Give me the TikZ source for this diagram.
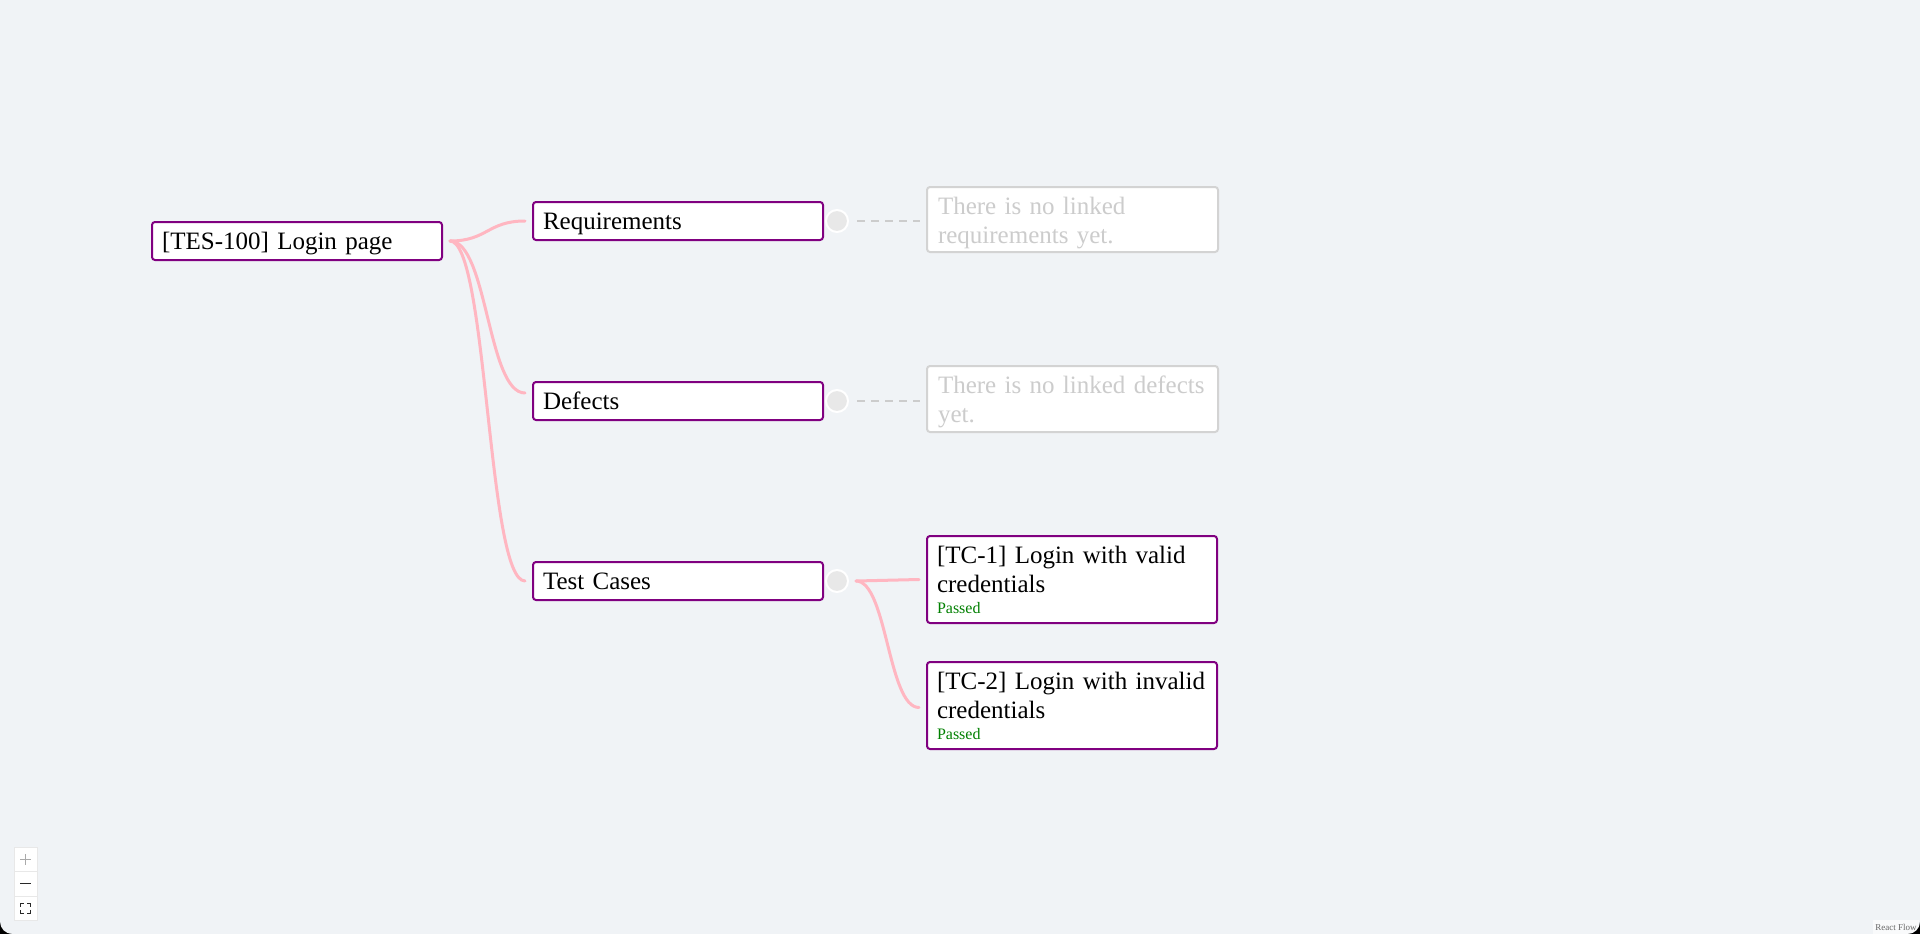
\documentclass[tikz,border=0pt]{standalone}
\usepackage{fontspec}
\setmainfont{Liberation Serif}
\definecolor{bg}{RGB}{240,243,246}
\definecolor{nodeborder}{RGB}{128,0,128}
\definecolor{edgepink}{RGB}{255,182,193}
\definecolor{phtext}{RGB}{204,204,204}
\definecolor{phborder}{RGB}{211,211,211}
\definecolor{handlefill}{RGB}{232,232,232}
\definecolor{passgreen}{RGB}{0,128,0}
\definecolor{ctrlborder}{RGB}{232,232,232}
\definecolor{ctrlplus}{RGB}{170,170,170}
\definecolor{ctrldark}{RGB}{40,40,40}
\begin{document}
\begin{tikzpicture}[x=1pt,y=-1pt,
  every node/.style={inner sep=0pt, outer sep=0pt},
  itembox/.style={draw=nodeborder, line width=2pt, fill=white, rounded corners=3pt,
    anchor=north west, minimum width=290pt, text width=270pt, align=left,
    inner xsep=10pt, font=\fontsize{25}{29}\selectfont},
  single/.style={itembox, minimum height=38pt, text height=18pt, text depth=2pt},
  tcbox/.style={itembox, minimum height=87pt},
  phbox/.style={draw=phborder, line width=2pt, fill=white, rounded corners=3pt,
    anchor=north west, minimum width=291pt, text width=269pt, align=left,
    inner xsep=11pt, text=phtext, font=\fontsize{25}{29}\selectfont,
    text height=23.4pt, text depth=34.4pt},
  handle/.style={circle, minimum size=22pt, fill=handlefill, draw=white, line width=2pt},
  edge/.style={draw=edgepink, line width=3pt, line cap=round},
  dashline/.style={draw=phtext, line width=2pt, dash pattern=on 8pt off 6pt},
  ctrlbtn/.style={rectangle, minimum width=23pt, minimum height=24.5pt, fill=white, draw=ctrlborder, line width=0.8pt},
  attrib/.style={fill=white, fill opacity=0.6, text opacity=1, text=black!60, inner xsep=2pt,
    minimum height=14pt, font=\fontsize{9}{10}\selectfont}
]
\useasboundingbox (0,0) rectangle (1920,934);
\fill[bg] (0,0) rectangle (1920,934);

% main nodes
\node[single] (root) at (152,222) {[TES-100] Login page};
\node[single] (req) at (533,202) {Requirements};
\node[single] (def) at (533,382) {Defects};
\node[single] (tc) at (533,562) {Test Cases};

% handles
\node[handle] (hreq) at ([xshift=14pt]req.east) {};
\node[handle] (hdef) at ([xshift=14pt]def.east) {};
\node[handle] (htc) at ([xshift=14pt]tc.east) {};

% placeholders
\node[phbox, minimum height=65pt] (phreq) at (927,187) {There is no linked\\requirements yet.};
\node[phbox, minimum height=66pt] (phdef) at (927,366) {There is no linked defects\\yet.};

% test cases
\node[tcbox] (tc1) at (927,536) {[TC-1] Login with valid\\credentials\\[-8pt]{\fontsize{16}{19}\selectfont\color{passgreen}Passed}};
\node[tcbox] (tc2) at (927,662) {[TC-2] Login with invalid\\credentials\\[-8pt]{\fontsize{16}{19}\selectfont\color{passgreen}Passed}};

% edges from root
\coordinate (rootout) at ([xshift=8pt]root.east);
\draw[edge] (rootout) .. controls +(37.5,0) and +(-37.5,0) .. ([xshift=-8pt]req.west);
\draw[edge] (rootout) .. controls +(37.5,0) and +(-37.5,0) .. ([xshift=-8pt,yshift=8pt]def.west);
\draw[edge] (rootout) .. controls +(37.5,0) and +(-37.5,0) .. ([xshift=-8pt]tc.west);

% dashed links to placeholders
\draw[dashline, shorten <=9pt, shorten >=7pt] (hreq.east) -- (hreq.east -| phreq.west);
\draw[dashline, shorten <=9pt, shorten >=7pt] (hdef.east) -- (hdef.east -| phdef.west);

% test case edges
\coordinate (tcout) at ([xshift=8pt]htc.east);
\draw[edge] (tcout) .. controls +(31,0) and +(-31,0) .. ([xshift=-8pt]tc1.west);
\draw[edge] (tcout) .. controls +(31,0) and +(-31,0) .. ([xshift=-8pt,yshift=-2pt]tc2.west);

% controls widget
\node[ctrlbtn] (zin) at (25.5,859.25) {};
\node[ctrlbtn] (zout) at (25.5,883.75) {};
\node[ctrlbtn] (zfit) at (25.5,908.25) {};
\draw[ctrlplus, line width=1pt] ([xshift=-5.5pt]zin.center) -- ([xshift=5.5pt]zin.center)
  ([yshift=-5.5pt]zin.center) -- ([yshift=5.5pt]zin.center);
\draw[ctrldark, line width=1.2pt] ([xshift=-5.5pt]zout.center) -- ([xshift=5.5pt]zout.center);
\draw[ctrldark, line width=1.4pt]
  ([xshift=-5pt,yshift=1.5pt]zfit.center) -- ([xshift=-5pt,yshift=5pt]zfit.center) -- ([xshift=-1.5pt,yshift=5pt]zfit.center)
  ([xshift=1.5pt,yshift=5pt]zfit.center) -- ([xshift=5pt,yshift=5pt]zfit.center) -- ([xshift=5pt,yshift=1.5pt]zfit.center)
  ([xshift=5pt,yshift=-1.5pt]zfit.center) -- ([xshift=5pt,yshift=-5pt]zfit.center) -- ([xshift=1.5pt,yshift=-5pt]zfit.center)
  ([xshift=-1.5pt,yshift=-5pt]zfit.center) -- ([xshift=-5pt,yshift=-5pt]zfit.center) -- ([xshift=-5pt,yshift=-1.5pt]zfit.center);

% attribution
\node[attrib] (rfattr) at (1896,927) {React Flow};

% window corners
\fill[black] (0,922) -- (0,934) -- (12,934) .. controls (5.4,934) and (0,928.6) .. (0,922);
\fill[black] (1920,922) -- (1920,934) -- (1908,934) .. controls (1914.6,934) and (1920,928.6) .. (1920,922);
\end{tikzpicture}
\end{document}
